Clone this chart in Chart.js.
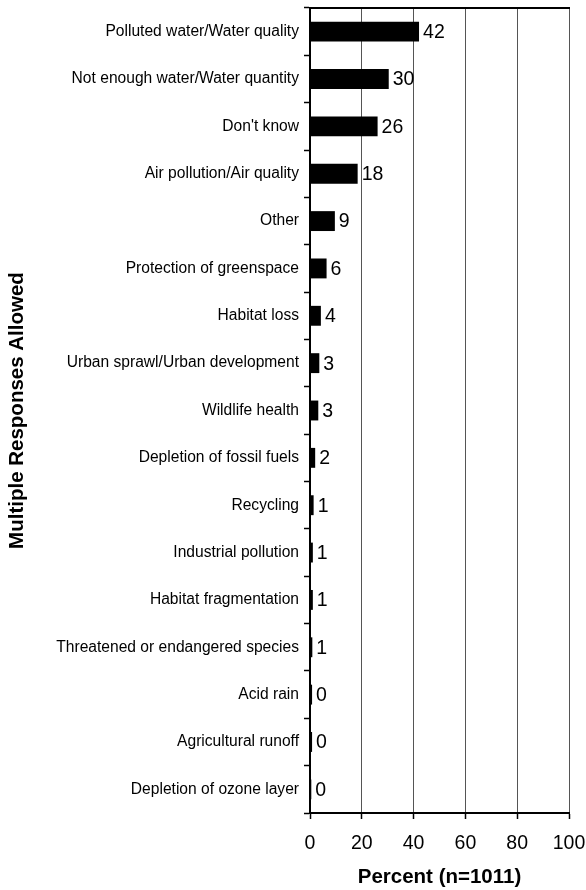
<!DOCTYPE html>
<html>
<head>
<meta charset="utf-8">
<script src="https://cdn.jsdelivr.net/npm/chart.js@4/dist/chart.umd.min.js"></script>
<style>
  html, body { margin: 0; padding: 0; background: #ffffff; }
  #wrap { width: 586px; height: 890px; }
</style>
</head>
<body>
<div id="wrap"><canvas id="c" width="586" height="890"></canvas></div>
<script>
const categories = [
  "Polluted water/Water quality",
  "Not enough water/Water quantity",
  "Don't know",
  "Air pollution/Air quality",
  "Other",
  "Protection of greenspace",
  "Habitat loss",
  "Urban sprawl/Urban development",
  "Wildlife health",
  "Depletion of fossil fuels",
  "Recycling",
  "Industrial pollution",
  "Habitat fragmentation",
  "Threatened or endangered species",
  "Acid rain",
  "Agricultural runoff",
  "Depletion of ozone layer"
];
const percentValues = [42.1, 30.4, 26.1, 18.4, 9.6, 6.4, 4.2, 3.6, 3.2, 2.0, 1.4, 1.1, 1.1, 0.9, 0.8, 0.8, 0.5];
const valueLabels = ["42", "30", "26", "18", "9", "6", "4", "3", "3", "2", "1", "1", "1", "1", "0", "0", "0"];
const xTicks = [0, 20, 40, 60, 80, 100];
const xTitle = "Percent (n=1011)";
const yTitle = "Multiple Responses Allowed";

const FONT = "'Liberation Sans', Arial, Helvetica, sans-serif";

const valueLabelPlugin = {
  id: 'valueLabels',
  afterDatasetsDraw(chart) {
    const ctx = chart.ctx;
    const meta = chart.getDatasetMeta(0);
    ctx.save();
    ctx.font = "19.5px " + FONT;
    ctx.fillStyle = "#000";
    ctx.textAlign = "left";
    ctx.textBaseline = "middle";
    meta.data.forEach((bar, i) => {
      ctx.fillText(valueLabels[i], bar.x + 4, bar.y + 1);
    });
    ctx.restore();
  }
};

const topBorderPlugin = {
  id: 'topBorder',
  afterDraw(chart) {
    const a = chart.chartArea;
    const ctx = chart.ctx;
    ctx.save();
    ctx.strokeStyle = "#000";
    ctx.lineWidth = 2;
    ctx.beginPath();
    ctx.moveTo(a.left - 1, a.top);
    ctx.lineTo(a.right + 1, a.top);
    ctx.stroke();
    ctx.restore();
  }
};

new Chart(document.getElementById('c'), {
  type: 'bar',
  data: {
    labels: categories,
    datasets: [{
      data: percentValues,
      backgroundColor: '#000000',
      borderWidth: 0,
      categoryPercentage: 1.0,
      barPercentage: 0.42
    }]
  },
  options: {
    indexAxis: 'y',
    responsive: false,
    animation: false,
    devicePixelRatio: 1,
    layout: { padding: { top: 8, right: 0, bottom: 0, left: 0 } },
    plugins: {
      legend: { display: false },
      tooltip: { enabled: false }
    },
    scales: {
      x: {
        min: 0,
        max: 100,
        afterBuildTicks(scale) { scale.ticks = xTicks.map(v => ({ value: v })); },
        afterFit(scale) {
          scale.height = 77;
          scale.paddingLeft = 0;
          scale.paddingRight = 17;
        },
        border: { display: true, color: '#000', width: 2 },
        grid: {
          color: '#555',
          lineWidth: 1,
          drawTicks: true,
          tickLength: 6,
          tickColor: '#000',
          tickWidth: 1.5
        },
        ticks: {
          color: '#000',
          font: { family: FONT, size: 19.5 },
          padding: 13,
          maxRotation: 0
        },
        title: {
          display: true,
          text: xTitle,
          color: '#000',
          font: { family: FONT, size: 20.5, weight: 'bold' },
          padding: { top: 0, bottom: 0 }
        }
      },
      y: {
        afterFit(scale) {
          scale.width = 310;
          scale.paddingTop = 0;
          scale.paddingBottom = 0;
        },
        border: { display: true, color: '#000', width: 2 },
        grid: {
          display: true,
          drawOnChartArea: false,
          drawTicks: true,
          offset: true,
          tickLength: 6,
          color: '#000',
          tickColor: '#000',
          tickWidth: 1.5
        },
        ticks: {
          color: '#000',
          font: { family: FONT, size: 15.6 },
          padding: 5,
          autoSkip: false
        },
        title: {
          display: true,
          text: yTitle,
          color: '#000',
          font: { family: FONT, size: 20.5, weight: 'bold' },
          padding: { top: 5, bottom: 0 }
        }
      }
    }
  },
  plugins: [valueLabelPlugin, topBorderPlugin]
});
</script>
</body>
</html>
